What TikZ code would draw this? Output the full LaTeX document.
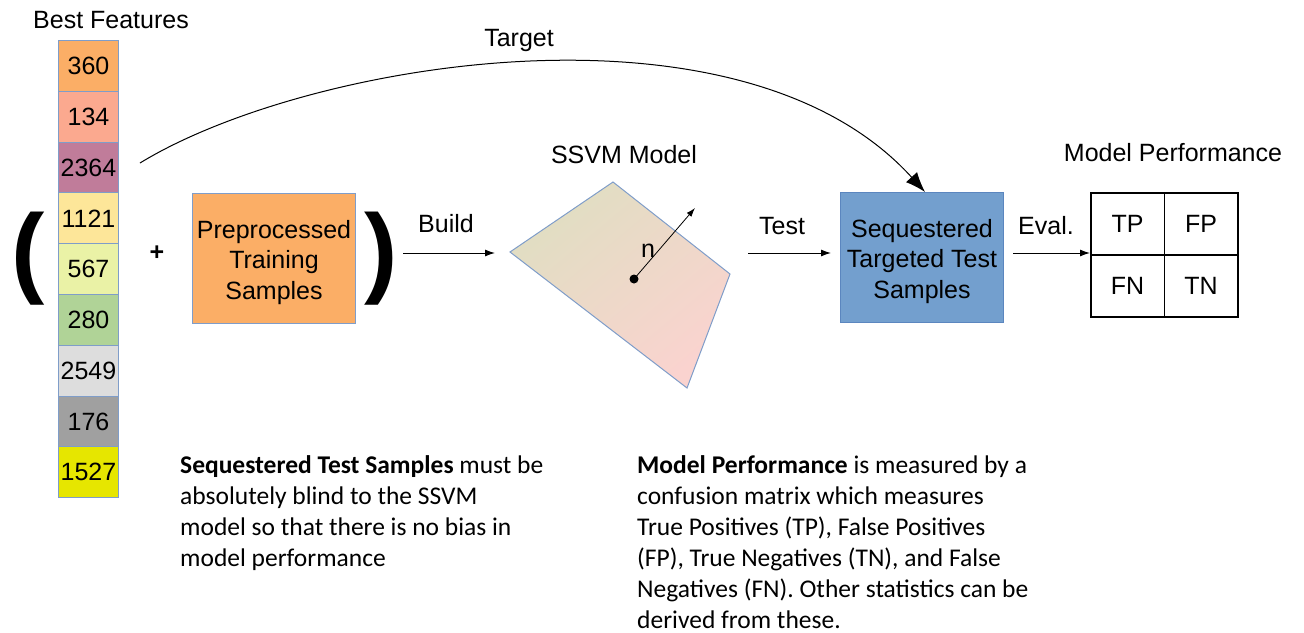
\documentclass[tikz,border=0pt]{standalone}
\usepackage{fontspec}
\setmainfont{Liberation Sans}
\newfontfamily\bodyfont{Carlito}
\usetikzlibrary{arrows.meta}
\definecolor{fA}{HTML}{FBAE66}
\definecolor{fB}{HTML}{FBA98F}
\definecolor{fC}{HTML}{C07C9A}
\definecolor{fD}{HTML}{FDE699}
\definecolor{fE}{HTML}{EAF2A6}
\definecolor{fF}{HTML}{B0D397}
\definecolor{fG}{HTML}{DDDDDD}
\definecolor{fH}{HTML}{A0A0A0}
\definecolor{fI}{HTML}{E6E600}
\definecolor{featborder}{HTML}{7F9DC9}
\definecolor{seqfill}{HTML}{739FCE}
\definecolor{seqborder}{HTML}{5B86BF}
\definecolor{preborder}{HTML}{7F9DC9}
\definecolor{planeA}{HTML}{E0DEC2}
\definecolor{planeB}{HTML}{FAD3CF}
\definecolor{planeborder}{HTML}{7F9DC9}
\tikzset{
  lbl/.style={font=\fontsize{25}{28}\selectfont, inner sep=0pt},
  feat/.style={draw=featborder, line width=1pt, minimum width=60pt, minimum height=50.8pt, inner sep=0pt, anchor=north west, font=\fontsize{25}{28}\selectfont},
  bigbox/.style={inner sep=0pt, minimum width=163pt, minimum height=130pt, anchor=north west, line width=1pt},
  boxtext/.style={align=center, font=\fontsize{25}{30.5}\selectfont, inner sep=0pt},
  flow/.style={-{Latex[length=10pt,width=7pt]}, line width=1pt},
  cell/.style={draw, line width=1.5pt, minimum width=73.5pt, minimum height=62pt, inner sep=0pt, anchor=north west, font=\fontsize{25}{28}\selectfont},
  body/.style={font=\bodyfont\fontsize{25.5}{31}\selectfont, align=left, inner sep=0pt, anchor=north west},
  paren/.style={font=\fontsize{100}{100}\selectfont\bfseries, inner sep=0pt}
}
\begin{document}
\begin{tikzpicture}[x=1pt,y=-1pt]
\useasboundingbox (0,0) rectangle (1304,632);
% feature column
\node[lbl] (bf) at (111,20) {Best Features};
\node[feat, fill=fA] (f1) at (58,40) {360};
\node[feat, fill=fB] (f2) at (58,90.8) {134};
\node[feat, fill=fC] (f3) at (58,141.6) {2364};
\node[feat, fill=fD] (f4) at (58,192.4) {1121};
\node[feat, fill=fE] (f5) at (58,243.2) {567};
\node[feat, fill=fF] (f6) at (58,294) {280};
\node[feat, fill=fG] (f7) at (58,344.8) {2549};
\node[feat, fill=fH] (f8) at (58,395.6) {176};
\node[feat, fill=fI] (f9) at (58,446.4) {1527};
% parens and plus
\node[paren] (lp) at (28,259) {(};
\node[paren] (rp) at (381,259) {)};
\node[font=\fontsize{25}{28}\selectfont\bfseries, inner sep=0pt] (plus) at (157,253) {+};
% preprocessed box
\node[bigbox, draw=preborder, fill=fA] (pre) at (192,193) {};
\node[boxtext] (pretext) at ([yshift=-4pt]pre.center) {Preprocessed\\Training\\Samples};
% SSVM plane
\coordinate (p1) at (510,252);
\coordinate (p2) at (613,182);
\coordinate (p3) at (730,274);
\coordinate (p4) at (687,388);
\shade[top color=planeA, bottom color=planeB, shading angle=40] (p1) -- (p2) -- (p3) -- (p4) -- cycle;
\draw[planeborder, line width=1pt] (p1) -- (p2) -- (p3) -- (p4) -- cycle;
\node[lbl] (ssvm) at (624,155) {SSVM Model};
\fill (634,279) circle (4.5pt);
\coordinate (dot) at (634,279);
\coordinate (ntip) at (695,208);
\draw[-{Latex[length=9pt,width=6pt]}, line width=0.8pt] (dot) -- (ntip);
\node[lbl] (n) at (648,251) {n};
\coordinate (pleft) at (495,253);
% sequestered box
\node[bigbox, draw=seqborder, fill=seqfill] (seq) at (840,192) {};
\node[boxtext] (seqtext) at ([yshift=-4pt]seq.center) {Sequestered\\Targeted Test\\Samples};
% confusion matrix
\node[cell] (tp) at (1090,192) {TP};
\node[cell] (fp) at (1163.5,192) {FP};
\node[cell] (fn) at (1090,254) {FN};
\node[cell] (tn) at (1163.5,254) {TN};
\node[lbl] (mp) at (1173,153) {Model Performance};
% flow arrows
\coordinate (bstart) at (403,253);
\coordinate (tstart) at (748,253);
\coordinate (tend) at (831,253);
\coordinate (estart) at (1013,253);
\draw[flow] (bstart) -- (pleft);
\draw[flow] (tstart) -- (tend);
\draw[flow] (estart) -- (tp.west |- estart);
\node[lbl] (buildlbl) at (446,224) {Build};
\node[lbl] (testlbl) at (782,226) {Test};
\node[lbl] (evallbl) at (1046,226) {Eval.};
% target curve
\coordinate (cs) at (140,163);
\draw[-{Latex[length=20pt,width=15pt]}, line width=1pt] (cs) .. controls (305,62) and (740,-12) .. (seq.north -| 925,0);
\node[lbl] (target) at (519,40) {Target};
% body text
\node[body] (t1) at (180,455) {\textbf{Sequestered Test Samples} must be\\absolutely blind to the SSVM\\model so that there is no bias in\\model performance};
\node[body] (t2) at (637,455) {\textbf{Model Performance} is measured by a\\confusion matrix which measures\\True Positives (TP), False Positives\\(FP), True Negatives (TN), and False\\Negatives (FN). Other statistics can be\\derived from these.};
\end{tikzpicture}
\end{document}
